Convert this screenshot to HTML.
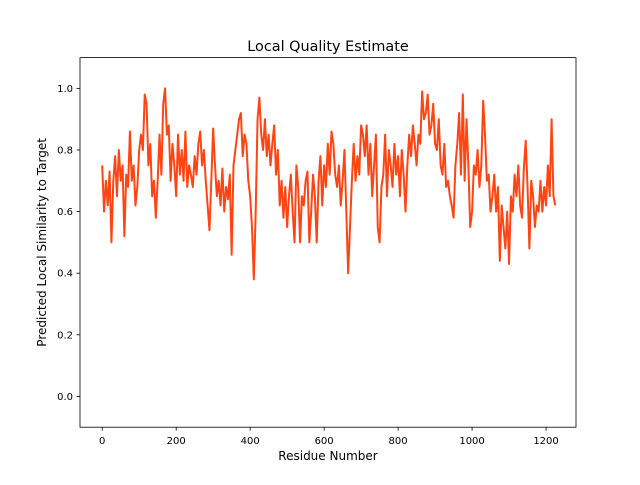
<!DOCTYPE html>
<html><head><meta charset="utf-8"><style>
html,body{margin:0;padding:0;background:#fff;}
svg text{font-family:"DejaVu Sans","Liberation Sans",sans-serif;fill:#000;}
</style></head><body>
<svg id="chart" width="640" height="480" xmlns="http://www.w3.org/2000/svg">
<rect width="640" height="480" fill="#fff"/>
<text x="328" y="51" font-size="14.4" text-anchor="middle">Local Quality Estimate</text>
<g id="plot"></g>
<g id="axes"></g>
<text x="328" y="460" font-size="12" text-anchor="middle">Residue Number</text>
<text transform="translate(46,242.4) rotate(-90)" font-size="12" text-anchor="middle">Predicted Local Similarity to Target</text>
</svg>
<script>
const residueStep = 5;
const scores = [
0.75,0.6,0.7,0.62,0.73,
0.5,0.7,0.78,0.65,0.8,0.7,0.75,0.52,
0.72,0.68,0.86,0.7,0.75,0.62,0.68,0.8,
0.85,0.8,0.98,0.95,0.75,0.82,0.65,0.7,
0.58,0.7,0.85,0.72,0.95,1.0,0.85,0.88,
0.7,0.82,0.75,0.65,0.85,0.72,0.8,0.7,
0.86,0.68,0.75,0.72,0.68,0.78,0.72,0.82,
0.86,0.75,0.8,0.7,0.62,0.54,0.7,0.87,
0.75,0.65,0.7,0.62,0.74,0.6,0.68,0.64,
0.72,0.46,0.75,0.8,0.85,0.9,0.92,0.78,
0.85,0.82,0.7,0.65,0.55,0.38,0.6,0.9,
0.97,0.85,0.8,0.9,0.78,0.85,0.75,0.82,
0.88,0.72,0.8,0.62,0.7,0.58,0.68,0.55,
0.65,0.72,0.6,0.5,0.75,0.68,0.5,0.65,
0.62,0.7,0.73,0.5,0.6,0.72,0.65,0.5,
0.7,0.78,0.62,0.75,0.68,0.82,0.72,0.86,
0.82,0.72,0.68,0.75,0.62,0.7,0.8,0.6,
0.4,0.55,0.7,0.82,0.7,0.78,0.72,0.88,
0.85,0.78,0.88,0.72,0.82,0.65,0.75,0.85,
0.55,0.5,0.68,0.72,0.85,0.65,0.8,0.75,
0.68,0.82,0.72,0.78,0.65,0.8,0.72,0.6,
0.75,0.85,0.78,0.88,0.82,0.75,0.85,0.82,
0.99,0.9,0.92,0.98,0.85,0.88,0.95,0.82,
0.8,0.9,0.75,0.72,0.82,0.68,0.7,0.65,
0.62,0.58,0.75,0.82,0.92,0.72,0.98,0.7,
0.9,0.75,0.55,0.6,0.75,0.72,0.8,0.68,
0.75,0.96,0.85,0.7,0.72,0.6,0.65,0.72,
0.6,0.68,0.44,0.62,0.55,0.48,0.6,0.43,
0.65,0.6,0.72,0.65,0.75,0.62,0.58,0.74,
0.83,0.68,0.48,0.7,0.65,0.55,0.62,0.6,
0.7,0.6,0.68,0.62,0.75,0.65,0.9,0.65,0.62
];
const xTicks = [0,200,400,600,800,1000,1200];
const yTicks = [0.0,0.2,0.4,0.6,0.8,1.0];

const L=80,R=576,T=57.6,B=427.2;
const xMin=-60,xMax=1281,yMin=-0.1,yMax=1.1;
const xs=v=>L+(v-xMin)/(xMax-xMin)*(R-L);
const ys=v=>B-(v-yMin)/(yMax-yMin)*(B-T);
const NS="http://www.w3.org/2000/svg";
const plot=document.getElementById('plot'), axes=document.getElementById('axes');

const pts=scores.map((v,i)=>xs(i*residueStep).toFixed(2)+','+ys(v).toFixed(2)).join(' ');
const line=document.createElementNS(NS,'polyline');


line.setAttribute('points',pts);
line.setAttribute('fill','none');
line.setAttribute('stroke','#ff4513');
line.setAttribute('stroke-width','2');
line.setAttribute('stroke-linejoin','round');
plot.appendChild(line);

const frame=document.createElementNS(NS,'rect');


frame.setAttribute('x',L);frame.setAttribute('y',T);
frame.setAttribute('width',R-L);frame.setAttribute('height',B-T);
frame.setAttribute('fill','none');frame.setAttribute('stroke','#000');frame.setAttribute('stroke-width','0.8');
axes.appendChild(frame);

xTicks.forEach(t=>{
  const x=xs(t);
  const tk=document.createElementNS(NS,'line');
  
  
  tk.setAttribute('x1',x);tk.setAttribute('x2',x);tk.setAttribute('y1',B);tk.setAttribute('y2',B+3.5);
  tk.setAttribute('stroke','#000');tk.setAttribute('stroke-width','0.8');
  axes.appendChild(tk);
  const lb=document.createElementNS(NS,'text');
  
  
  lb.setAttribute('x',x);lb.setAttribute('y',B+17);
  lb.setAttribute('font-size','10');lb.setAttribute('text-anchor','middle');
  lb.textContent=String(t);
  axes.appendChild(lb);
});
yTicks.forEach(t=>{
  const y=ys(t);
  const tk=document.createElementNS(NS,'line');
  
  
  tk.setAttribute('x1',L-3.5);tk.setAttribute('x2',L);tk.setAttribute('y1',y);tk.setAttribute('y2',y);
  tk.setAttribute('stroke','#000');tk.setAttribute('stroke-width','0.8');
  axes.appendChild(tk);
  const lb=document.createElementNS(NS,'text');
  
  
  lb.setAttribute('x',L-7);lb.setAttribute('y',y+3.5);
  lb.setAttribute('font-size','10');lb.setAttribute('text-anchor','end');
  lb.textContent=t.toFixed(1);
  axes.appendChild(lb);
});
</script>
</body></html>
